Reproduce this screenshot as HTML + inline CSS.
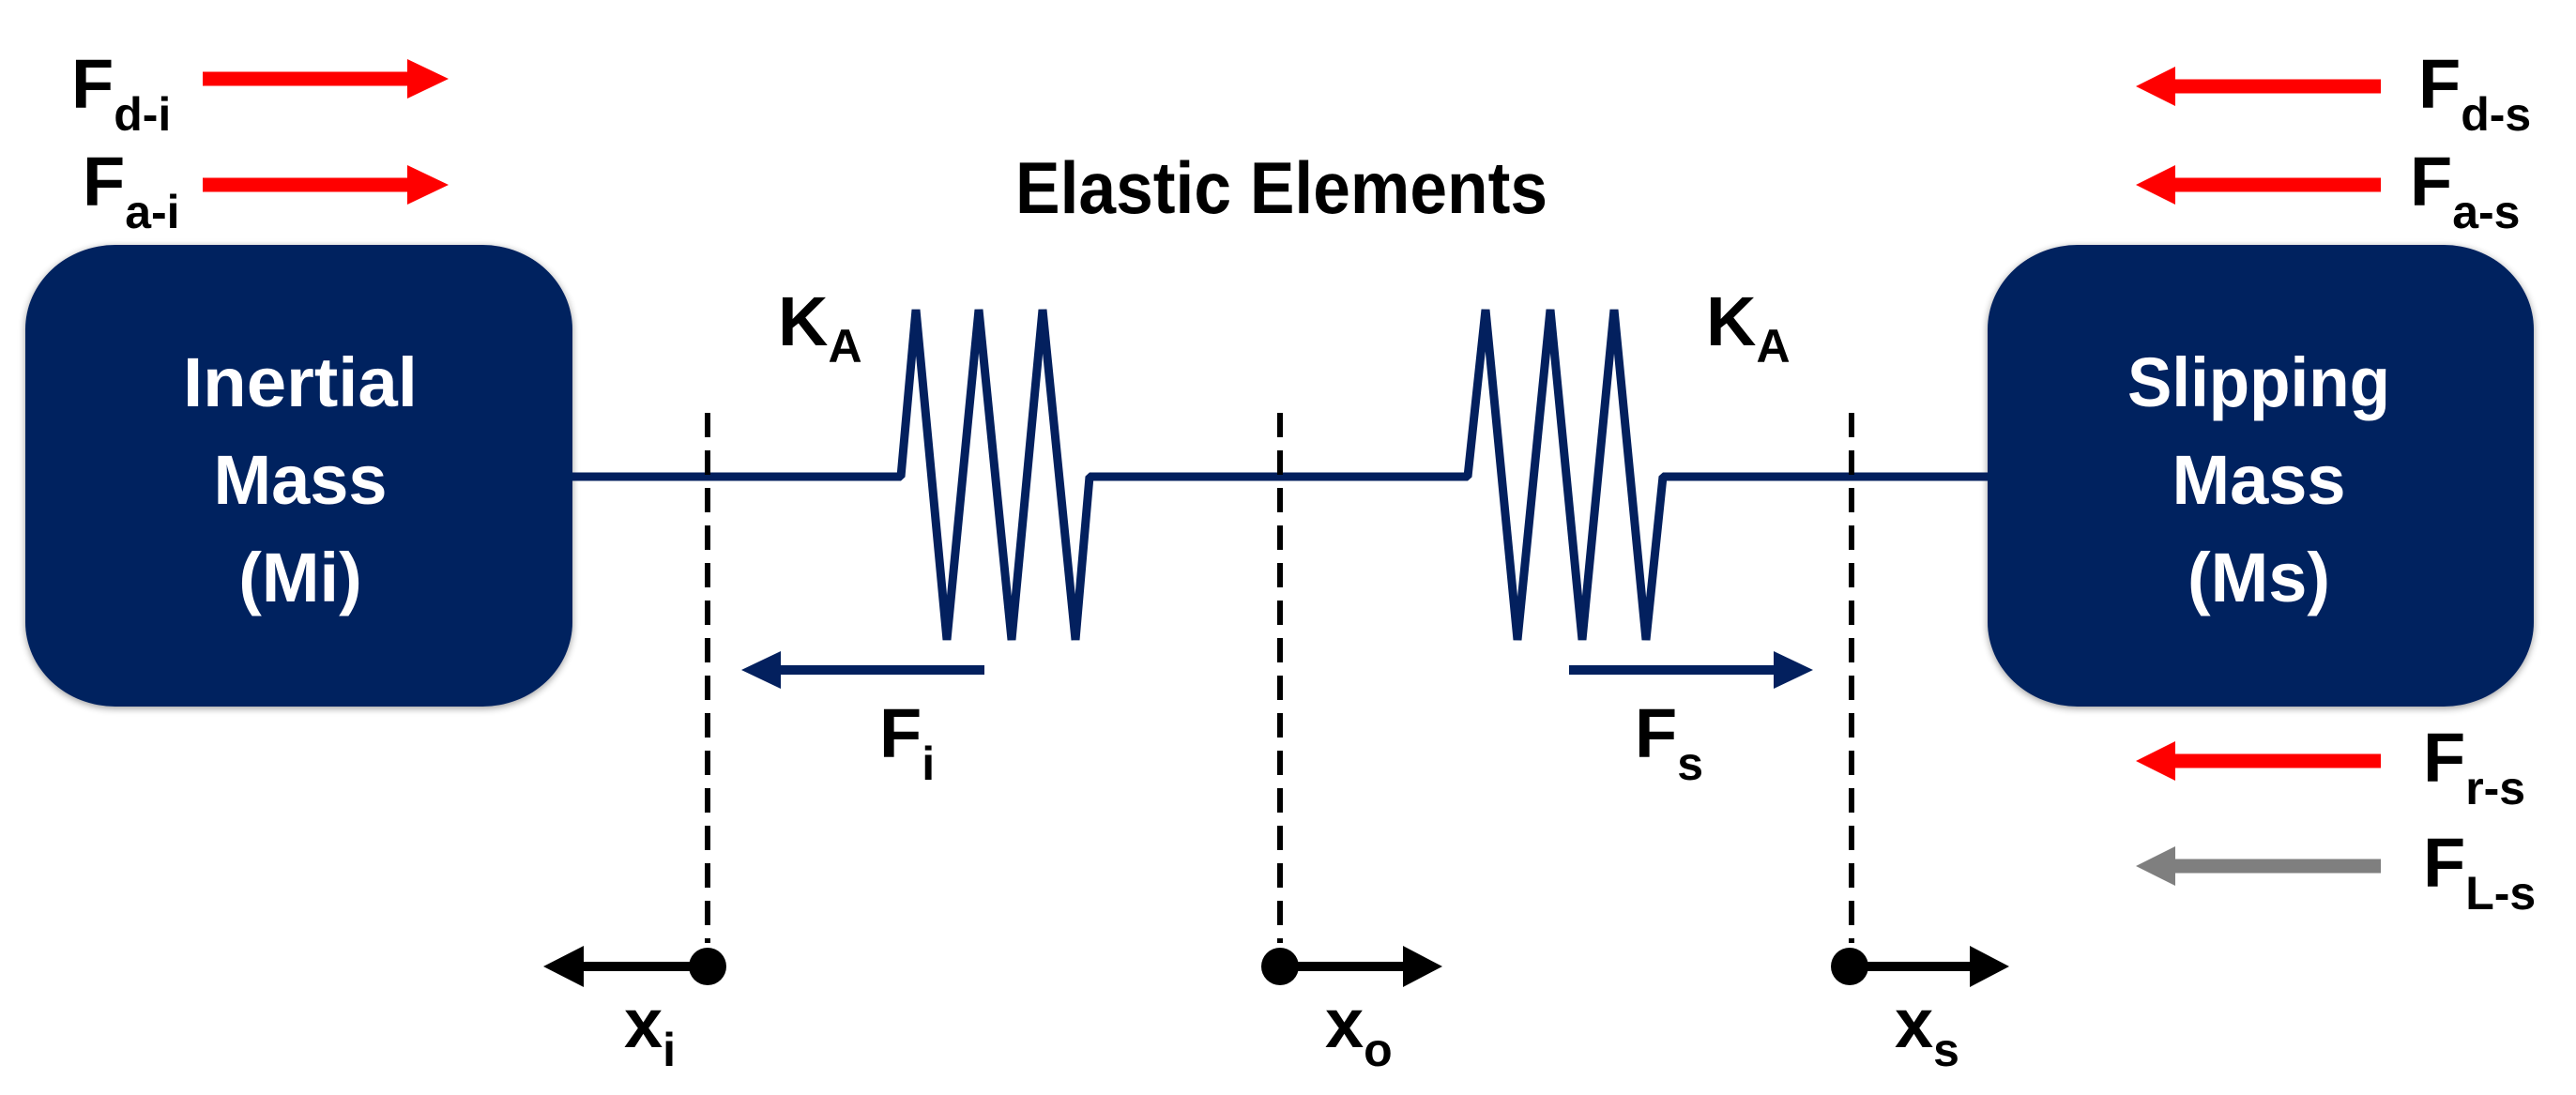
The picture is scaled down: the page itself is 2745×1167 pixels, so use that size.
<!DOCTYPE html>
<html><head><meta charset="utf-8"><style>
html,body{margin:0;padding:0;background:#fff;}
svg{display:block;}
text{font-family:"Liberation Sans",sans-serif;font-weight:bold;}
</style></head><body>
<svg width="2745" height="1167" viewBox="0 0 2745 1167" xmlns="http://www.w3.org/2000/svg">
<defs>
<filter id="sh" x="-5%" y="-5%" width="110%" height="110%"><feGaussianBlur in="SourceAlpha" stdDeviation="4"/><feOffset dx="0" dy="2"/><feComponentTransfer><feFuncA type="linear" slope="0.4"/></feComponentTransfer><feMerge><feMergeNode/><feMergeNode in="SourceGraphic"/></feMerge></filter>
</defs>
<rect x="27" y="261" width="583" height="492" rx="96" ry="90" fill="#03205E" filter="url(#sh)"/>
<rect x="2118" y="261" width="582" height="492" rx="96" ry="90" fill="#03205E" filter="url(#sh)"/>
<g fill="#fff" font-size="74" text-anchor="middle">
<text x="320" y="433" textLength="250" lengthAdjust="spacingAndGlyphs">Inertial</text>
<text x="320" y="537">Mass</text>
<text x="320" y="641">(Mi)</text>
<text x="2407" y="433" textLength="280" lengthAdjust="spacingAndGlyphs">Slipping</text>
<text x="2407" y="537">Mass</text>
<text x="2407" y="641">(Ms)</text>
</g>
<polyline fill="none" stroke="#03205E" stroke-width="9" stroke-linejoin="bevel"
 points="610,508 960,508 976,330 1009,682 1043,330 1078,682 1111,330 1146,682 1161,508 1564,508 1583,330 1617,682 1652,330 1686,682 1720,330 1754,682 1772,508 2118,508"/>
<g stroke="#000" stroke-width="6" stroke-dasharray="26,14">
<line x1="754" y1="440" x2="754" y2="1005"/>
<line x1="1364" y1="440" x2="1364" y2="1005"/>
<line x1="1973" y1="440" x2="1973" y2="1005"/>
</g>
<g fill="#000" stroke="#000">
<circle cx="754" cy="1030" r="20" stroke="none"/>
<line x1="754" y1="1030" x2="615" y2="1030" stroke-width="10"/>
<polygon points="579,1030 622,1008 622,1052" stroke="none"/>
<circle cx="1364" cy="1030" r="20" stroke="none"/>
<line x1="1364" y1="1030" x2="1500" y2="1030" stroke-width="10"/>
<polygon points="1537,1030 1495,1008 1495,1052" stroke="none"/>
<circle cx="1971" cy="1030" r="20" stroke="none"/>
<line x1="1971" y1="1030" x2="2104" y2="1030" stroke-width="10"/>
<polygon points="2141,1030 2099,1008 2099,1052" stroke="none"/>
</g>
<g fill="#03205E" stroke="#03205E">
<line x1="1049" y1="714" x2="825" y2="714" stroke-width="10"/>
<polygon points="790,714 832,694 832,734" stroke="none"/>
<line x1="1672" y1="714" x2="1895" y2="714" stroke-width="10"/>
<polygon points="1932,714 1890,694 1890,734" stroke="none"/>
</g>
<g fill="#FF0000" stroke="#FF0000">
<line x1="216" y1="84" x2="440" y2="84" stroke-width="15"/>
<polygon points="478,84 434,63 434,105" stroke="none"/>
<line x1="216" y1="197" x2="440" y2="197" stroke-width="15"/>
<polygon points="478,197 434,176 434,218" stroke="none"/>
<line x1="2537" y1="92" x2="2312" y2="92" stroke-width="15"/>
<polygon points="2276,92 2318,71 2318,113" stroke="none"/>
<line x1="2537" y1="197" x2="2312" y2="197" stroke-width="15"/>
<polygon points="2276,197 2318,176 2318,218" stroke="none"/>
<line x1="2537" y1="811" x2="2312" y2="811" stroke-width="15"/>
<polygon points="2276,811 2318,790 2318,832" stroke="none"/>
</g>
<g fill="#7F7F7F" stroke="#7F7F7F">
<line x1="2537" y1="923" x2="2312" y2="923" stroke-width="15"/>
<polygon points="2276,923 2318,902 2318,944" stroke="none"/>
</g>
<g fill="#000" font-size="74">
<text x="76" y="115">F<tspan font-size="50" dy="24">d-i</tspan></text>
<text x="88" y="219">F<tspan font-size="50" dy="24">a-i</tspan></text>
<text x="2577" y="115">F<tspan font-size="50" dy="24">d-s</tspan></text>
<text x="2568" y="219">F<tspan font-size="50" dy="24">a-s</tspan></text>
<text x="2582" y="833">F<tspan font-size="50" dy="24">r-s</tspan></text>
<text x="2582" y="945">F<tspan font-size="50" dy="24">L-s</tspan></text>
<text x="829" y="368">K<tspan font-size="50" dy="18">A</tspan></text>
<text x="1818" y="368">K<tspan font-size="50" dy="18">A</tspan></text>
<text x="937" y="807">F<tspan font-size="50" dy="24">i</tspan></text>
<text x="1742" y="807">F<tspan font-size="50" dy="24">s</tspan></text>
<text x="665" y="1116">x<tspan font-size="50" dy="20">i</tspan></text>
<text x="1412" y="1116">x<tspan font-size="50" dy="20">o</tspan></text>
<text x="2019" y="1116">x<tspan font-size="50" dy="20">s</tspan></text>
<text x="1082" y="227" font-size="78" textLength="567" lengthAdjust="spacingAndGlyphs">Elastic Elements</text>
</g>
</svg>
</body></html>
